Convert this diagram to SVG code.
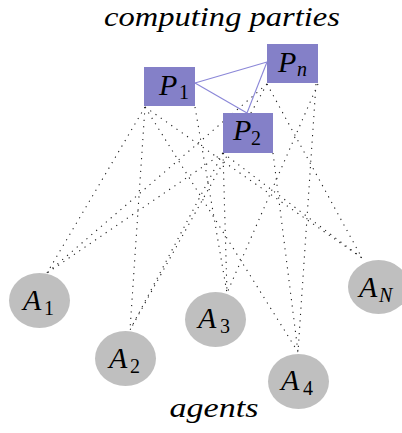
<svg xmlns="http://www.w3.org/2000/svg" width="402" height="433" viewBox="0 0 402 433">
  <style>
    .party { fill: #8480c8; }
    .agent { fill: #bfbfbf; }
    .dot { stroke: #222; stroke-width: 1.1; stroke-dasharray: 1.2 5.2; fill: none; }
    .link { stroke: #8b87d8; stroke-width: 1.1; fill: none; }
    .lbl { font-size: 30px; font-style: italic; }
    .sub { font-size: 20px; }
    .subi { font-size: 20px; font-style: italic; }
    .title { font-size: 28px; font-style: italic; }
  </style>
  <rect width="402" height="433" fill="#ffffff"/>

  <g font-family="Liberation Serif, Times New Roman, Tinos, Noto Serif, DejaVu Serif, FreeSerif, serif" fill="#000">
  <text class="title" x="222" y="26" text-anchor="middle" textLength="236" lengthAdjust="spacingAndGlyphs">computing parties</text>
  <text class="title" x="214" y="417" text-anchor="middle" textLength="89" lengthAdjust="spacingAndGlyphs">agents</text>
  </g>

  <g id="connectors">
    <!-- P1 -->
    <line class="dot" x1="145" y1="107" x2="47" y2="273"/>
    <line class="dot" x1="145" y1="107" x2="130" y2="330"/>
    <line class="dot" x1="195" y1="107" x2="227" y2="293"/>
    <line class="dot" x1="145" y1="107" x2="298" y2="352"/>
    <line class="dot" x1="145" y1="107" x2="362" y2="258"/>
    <!-- P2 -->
    <line class="dot" x1="223" y1="153" x2="47" y2="273"/>
    <line class="dot" x1="223" y1="153" x2="130" y2="330"/>
    <line class="dot" x1="223" y1="153" x2="227" y2="293"/>
    <line class="dot" x1="273" y1="153" x2="298" y2="352"/>
    <line class="dot" x1="223" y1="153" x2="362" y2="258"/>
    <!-- Pn -->
    <line class="dot" x1="267" y1="84" x2="47" y2="273"/>
    <line class="dot" x1="267" y1="84" x2="130" y2="330"/>
    <line class="dot" x1="318" y1="84" x2="227" y2="293"/>
    <line class="dot" x1="316" y1="84" x2="298" y2="352"/>
    <line class="dot" x1="267" y1="84" x2="362" y2="258"/>
    <!-- party links -->
    <line class="link" x1="195" y1="83" x2="267" y2="62"/>
    <line class="link" x1="195" y1="83" x2="247" y2="113"/>
    <line class="link" x1="267" y1="62" x2="247" y2="113"/>
  </g>

  <g font-family="Liberation Serif, Times New Roman, Tinos, Noto Serif, DejaVu Serif, FreeSerif, serif" fill="#000">
  <g id="P1">
    <rect class="party" x="144" y="67" width="51" height="39"/>
    <text class="lbl" x="159" y="95">P</text>
    <text class="sub" x="179" y="99">1</text>
  </g>
  <g id="Pn">
    <rect class="party" x="267" y="44" width="51" height="39"/>
    <text class="lbl" x="278" y="72">P</text>
    <text class="subi" x="297" y="76">n</text>
  </g>
  <g id="P2">
    <rect class="party" x="223" y="113" width="50" height="40"/>
    <text class="lbl" x="233" y="140">P</text>
    <text class="sub" x="251" y="145">2</text>
  </g>

  <g id="A1">
    <ellipse class="agent" cx="39.5" cy="300.5" rx="30.5" ry="27.5"/>
    <text class="lbl" x="23" y="310">A</text>
    <text class="sub" x="44" y="315">1</text>
  </g>
  <g id="A2">
    <ellipse class="agent" cx="125.5" cy="358.5" rx="30.5" ry="27.5"/>
    <text class="lbl" x="109" y="368">A</text>
    <text class="sub" x="130" y="373">2</text>
  </g>
  <g id="A3">
    <ellipse class="agent" cx="215.5" cy="319.5" rx="30.5" ry="27.5"/>
    <text class="lbl" x="198" y="328">A</text>
    <text class="sub" x="220" y="333">3</text>
  </g>
  <g id="A4">
    <ellipse class="agent" cx="298.5" cy="381.5" rx="30.5" ry="27.5"/>
    <text class="lbl" x="281" y="390">A</text>
    <text class="sub" x="303" y="395">4</text>
  </g>
  <g id="AN">
    <ellipse class="agent" cx="378.5" cy="287" rx="30.5" ry="27"/>
    <text class="lbl" x="359" y="297">A</text>
    <text class="subi" x="379" y="302">N</text>
  </g>
  </g>
</svg>
